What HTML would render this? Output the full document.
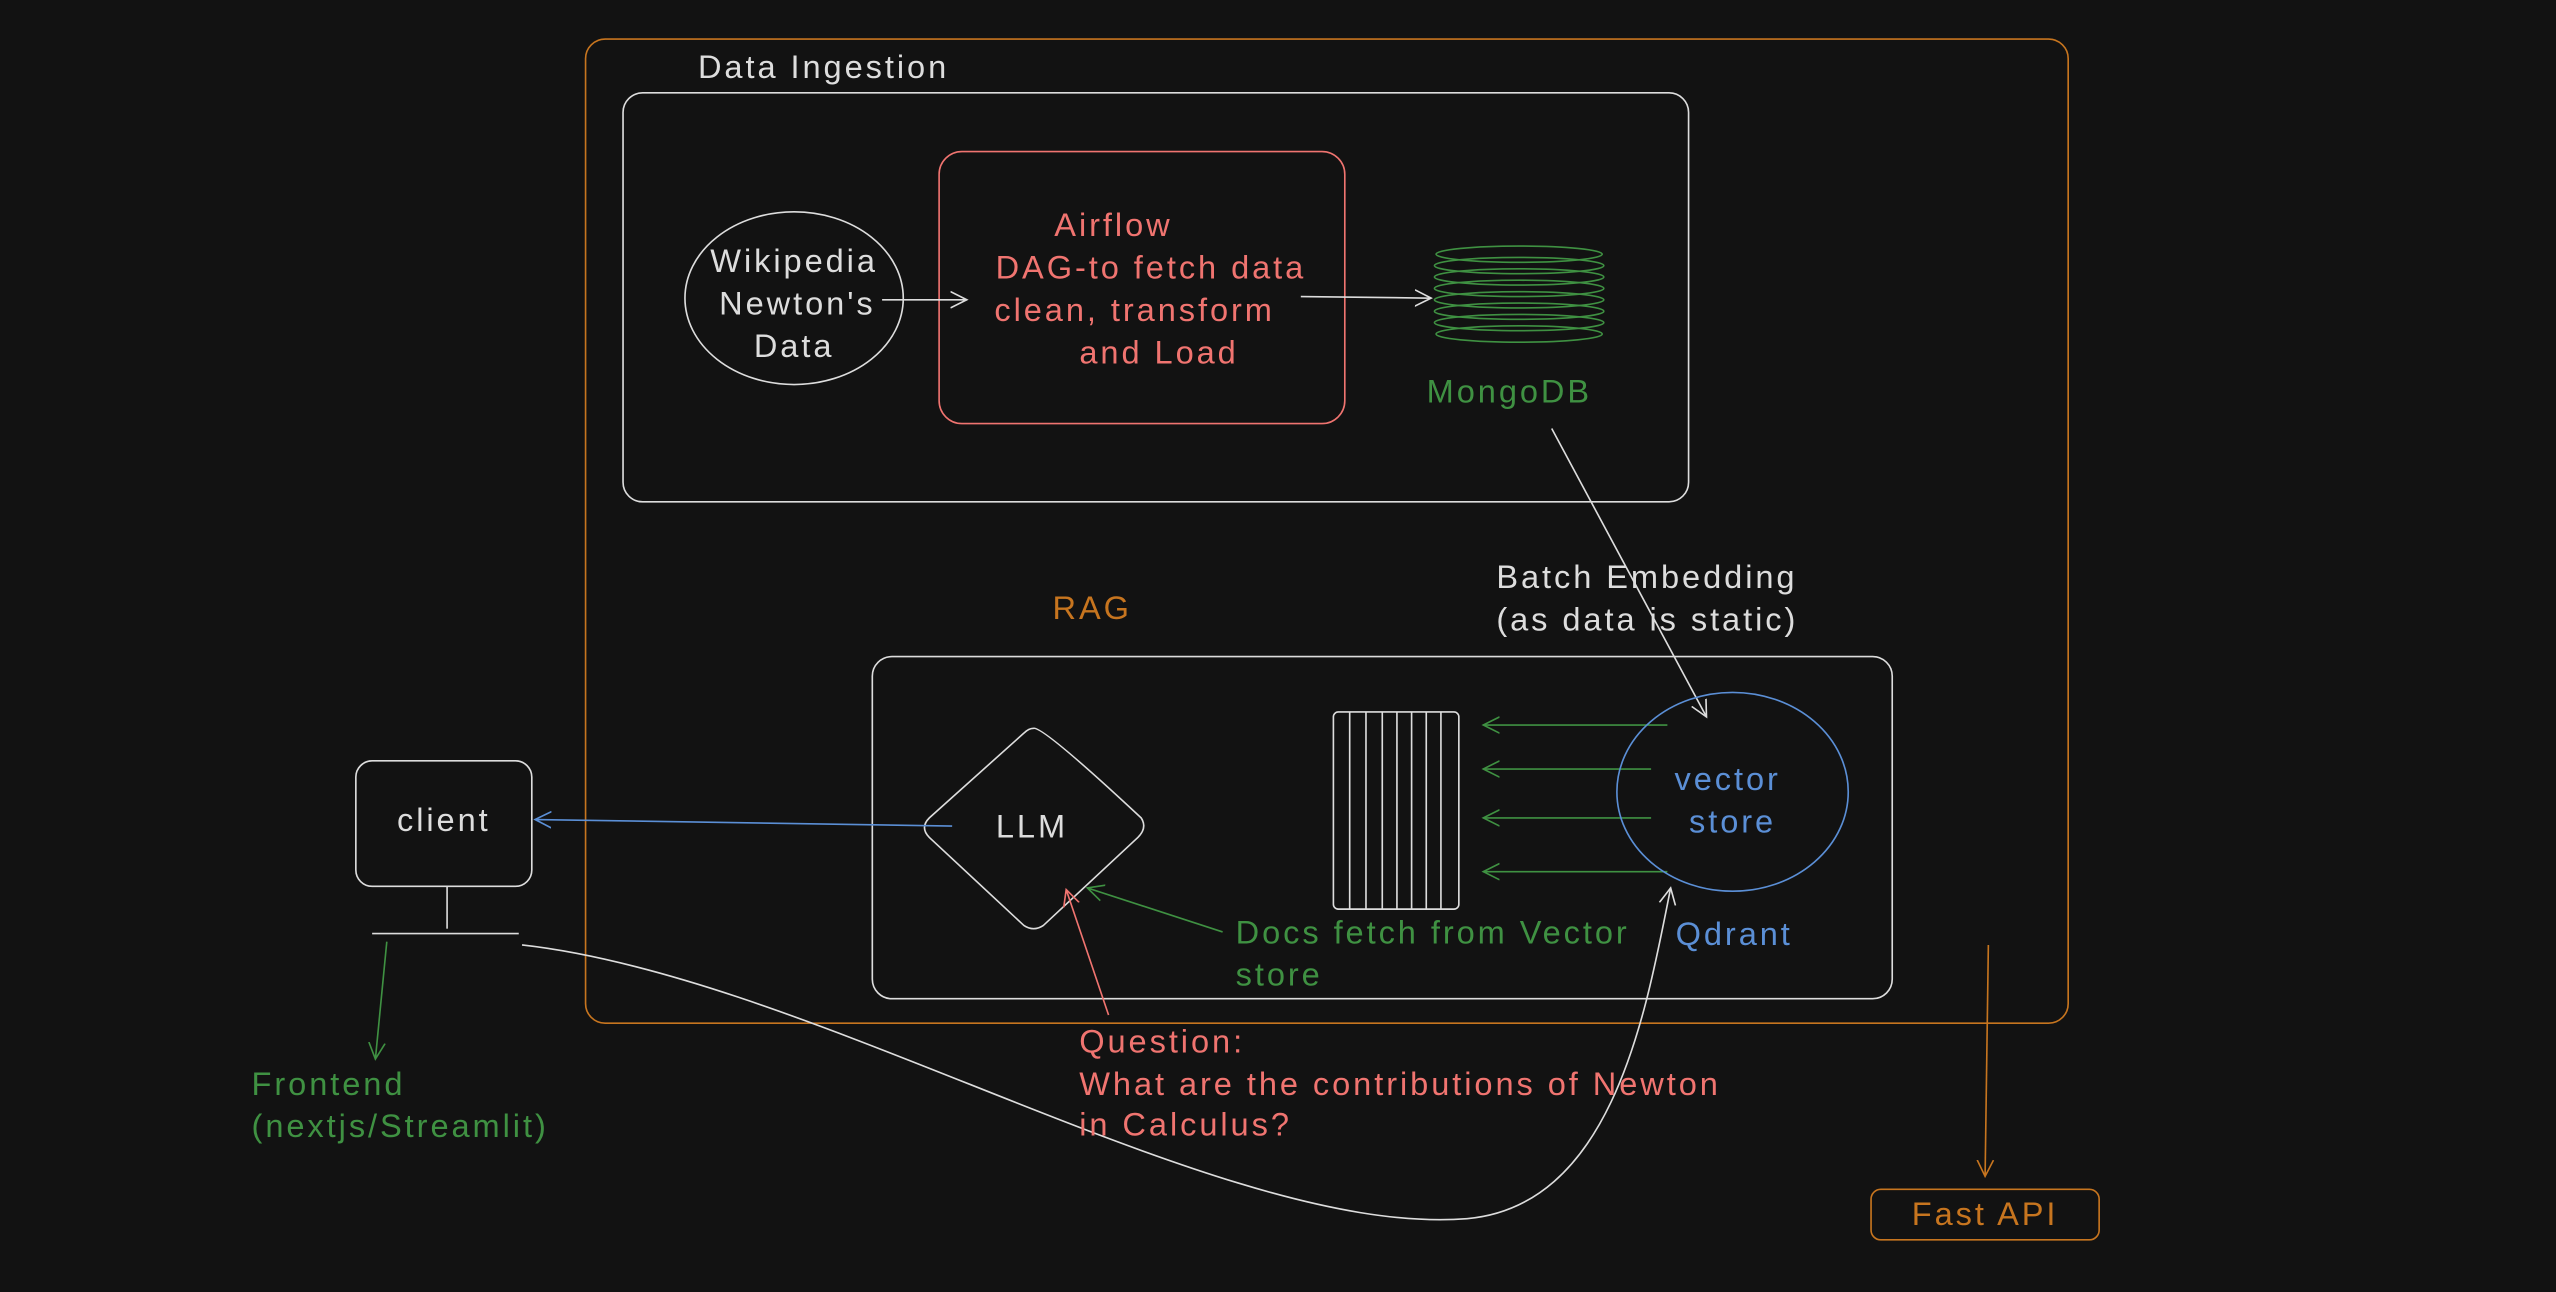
<!DOCTYPE html>
<html><head><meta charset="utf-8"><style>
html,body{margin:0;padding:0;background:#121212;}
svg{display:block}
text{font-family:"Liberation Sans",sans-serif;font-size:20px;letter-spacing:1.8px;}
</style></head><body>
<svg width="2556" height="1292" viewBox="0 0 1568 793" xmlns="http://www.w3.org/2000/svg">
<defs>
<marker id="aw" markerWidth="12" markerHeight="12" refX="10" refY="6" orient="auto" markerUnits="userSpaceOnUse"><path d="M0,1 L10,6 L0,11" fill="none" stroke="#ddd" stroke-width="1"/></marker>
<marker id="ag" markerWidth="12" markerHeight="12" refX="10" refY="6" orient="auto" markerUnits="userSpaceOnUse"><path d="M0,1 L10,6 L0,11" fill="none" stroke="#3f9142" stroke-width="1"/></marker>
<marker id="ab" markerWidth="12" markerHeight="12" refX="10" refY="6" orient="auto" markerUnits="userSpaceOnUse"><path d="M0,1 L10,6 L0,11" fill="none" stroke="#5b8fd6" stroke-width="1"/></marker>
<marker id="ar" markerWidth="12" markerHeight="12" refX="10" refY="6" orient="auto" markerUnits="userSpaceOnUse"><path d="M0,1 L10,6 L0,11" fill="none" stroke="#f07470" stroke-width="1"/></marker>
<marker id="ao" markerWidth="12" markerHeight="12" refX="10" refY="6" orient="auto" markerUnits="userSpaceOnUse"><path d="M0,1 L10,6 L0,11" fill="none" stroke="#c7751f" stroke-width="1"/></marker>
</defs>
<rect width="1568" height="793" fill="#121212"/>
<g fill="none" stroke-width="1">
<rect x="359" y="24" width="910" height="604" rx="12" stroke="#c7751f"/>
<rect x="382" y="57" width="654" height="251" rx="12" stroke="#ddd"/>
<ellipse cx="487" cy="183" rx="67" ry="53" stroke="#ddd"/>
<rect x="576" y="93" width="249" height="167" rx="14" stroke="#f07470"/>
<line x1="541" y1="184" x2="593" y2="184" stroke="#ddd" marker-end="url(#aw)"/>
<line x1="798" y1="182" x2="878" y2="183" stroke="#ddd" marker-end="url(#aw)"/>
<g stroke="#3f9142">
<ellipse cx="932" cy="156" rx="51" ry="5"/><ellipse cx="932" cy="163" rx="52" ry="5"/><ellipse cx="932" cy="170" rx="52" ry="5"/><ellipse cx="932" cy="177" rx="52" ry="5"/><ellipse cx="932" cy="184" rx="52" ry="5"/><ellipse cx="932" cy="191" rx="52" ry="5"/><ellipse cx="932" cy="198" rx="52" ry="5"/><ellipse cx="932" cy="205" rx="51" ry="5"/>
</g>
<line x1="952" y1="263" x2="1047" y2="440" stroke="#ddd" marker-end="url(#aw)"/>
<rect x="535" y="403" width="626" height="210" rx="12" stroke="#ddd"/>
<path d="M634,447 Q640,446 700,502 Q704,508 698,514 L640,568 Q634,572 628,568 L570,514 Q564,508 570,502 L628,450 Q631,447 634,447Z" stroke="#ddd"/>
<rect x="218" y="467" width="108" height="77" rx="10" stroke="#ddd"/>
<line x1="274" y1="544" x2="274" y2="570" stroke="#ddd"/>
<line x1="228" y1="573" x2="318" y2="573" stroke="#ddd"/>
<line x1="584" y1="507" x2="328" y2="503" stroke="#5b8fd6" marker-end="url(#ab)"/>
<g stroke="#ddd">
<rect x="818" y="437" width="77" height="121" rx="3"/>
<line x1="828" y1="437" x2="828" y2="558"/><line x1="838" y1="437" x2="838" y2="558"/><line x1="848" y1="437" x2="848" y2="558"/><line x1="857" y1="437" x2="857" y2="558"/><line x1="866" y1="437" x2="866" y2="558"/><line x1="875" y1="437" x2="875" y2="558"/><line x1="884" y1="437" x2="884" y2="558"/>
</g>
<g stroke="#3f9142">
<line x1="1023" y1="445" x2="910" y2="445" marker-end="url(#ag)"/>
<line x1="1013" y1="472" x2="910" y2="472" marker-end="url(#ag)"/>
<line x1="1013" y1="502" x2="910" y2="502" marker-end="url(#ag)"/>
<line x1="1023" y1="535" x2="910" y2="535" marker-end="url(#ag)"/>
<line x1="750" y1="572" x2="667" y2="545" marker-end="url(#ag)"/>
<line x1="237" y1="578" x2="230" y2="650" marker-end="url(#ag)"/>
</g>
<ellipse cx="1063" cy="486" rx="71" ry="61" stroke="#5b8fd6"/>
<line x1="680" y1="623" x2="654" y2="546" stroke="#f07470" marker-end="url(#ar)"/>
<path d="M320,580 C500,600 750,760 900,748 C990,740 1010,620 1025,545" stroke="#ddd" marker-end="url(#aw)"/>
<line x1="1220" y1="580" x2="1218" y2="722" stroke="#c7751f" marker-end="url(#ao)"/>
<rect x="1148" y="730" width="140" height="31" rx="6" stroke="#c7751f"/>
</g>
<g>
<text x="428" y="48" fill="#ddd">Data Ingestion</text>
<text x="487" y="167" fill="#ddd" text-anchor="middle">Wikipedia</text>
<text x="489" y="193" fill="#ddd" text-anchor="middle">Newton's</text>
<text x="487" y="219" fill="#ddd" text-anchor="middle">Data</text>
<text x="683" y="145" fill="#f07470" text-anchor="middle">Airflow</text>
<text x="706" y="171" fill="#f07470" text-anchor="middle">DAG-to fetch data</text>
<text x="696" y="197" fill="#f07470" text-anchor="middle">clean, transform</text>
<text x="711" y="223" fill="#f07470" text-anchor="middle">and Load</text>
<text x="926" y="247" fill="#3f9142" text-anchor="middle">MongoDB</text>
<text x="918" y="361" fill="#ddd">Batch Embedding</text>
<text x="918" y="387" fill="#ddd">(as data is static)</text>
<text x="670" y="380" fill="#c7751f" text-anchor="middle">RAG</text>
<text x="272" y="510" fill="#ddd" text-anchor="middle">client</text>
<text x="633" y="514" fill="#ddd" text-anchor="middle">LLM</text>
<text x="1060" y="485" fill="#5b8fd6" text-anchor="middle">vector</text>
<text x="1063" y="511" fill="#5b8fd6" text-anchor="middle">store</text>
<text x="1064" y="580" fill="#5b8fd6" text-anchor="middle">Qdrant</text>
<text x="758" y="579" fill="#3f9142">Docs fetch from Vector</text>
<text x="758" y="605" fill="#3f9142">store</text>
<text x="662" y="646" fill="#f07470">Question:</text>
<text x="662" y="672" fill="#f07470">What are the contributions of Newton</text>
<text x="662" y="697" fill="#f07470">in Calculus?</text>
<text x="154" y="672" fill="#3f9142">Frontend</text>
<text x="154" y="698" fill="#3f9142">(nextjs/Streamlit)</text>
<text x="1218" y="752" fill="#c7751f" text-anchor="middle">Fast API</text>
</g>
</svg>
</body></html>
